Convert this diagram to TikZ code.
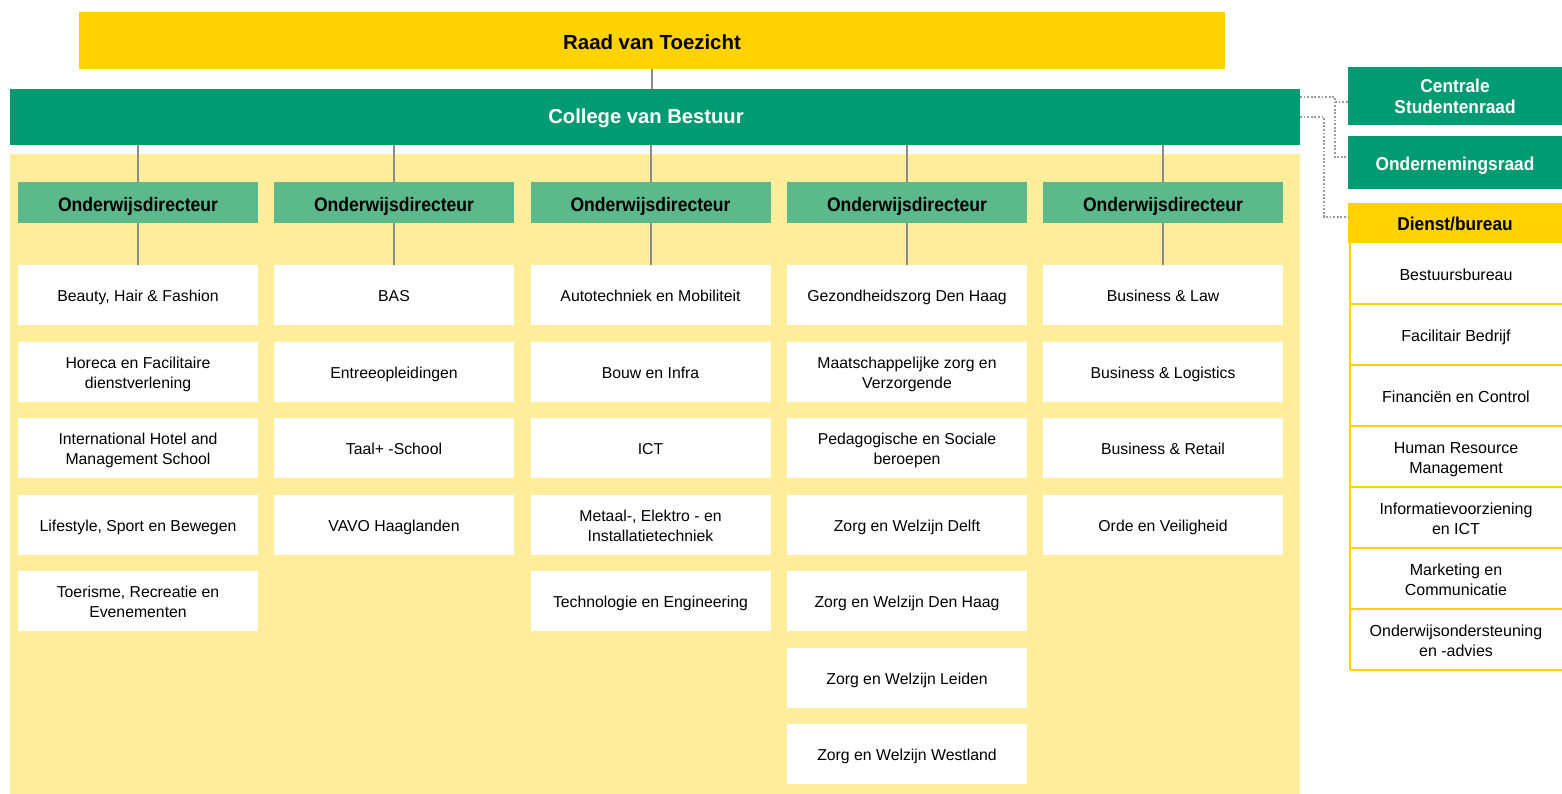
\documentclass[tikz,border=0pt]{standalone}
\usepackage{fontspec}
\setmainfont{Liberation Sans}
\newfontfamily\condfont[FakeStretch=0.9]{Liberation Sans}
\newfontfamily\semicond[FakeStretch=0.93]{Liberation Sans}

\definecolor{gold}{RGB}{255,210,0}
\definecolor{cvbgreen}{RGB}{0,155,114}
\definecolor{odgreen}{RGB}{92,185,140}
\definecolor{paleyellow}{RGB}{254,238,155}
\definecolor{linegray}{RGB}{140,140,140}
\definecolor{dotgray}{RGB}{155,155,155}

% invisible rule giving the first line of a label a fixed height
\newcommand{\firstline}[1]{\rule{0pt}{#1pt}}

\begin{document}
\begin{tikzpicture}[x=1pt,y=-1pt,
  % invisible rules fixing the height of the first line and the depth of the last
  struts/.style 2 args={execute at begin node={\rule{0pt}{#1pt}},
    execute at end node={\rule[-#2pt]{0pt}{#2pt}}},
  box/.style={inner sep=0pt, outer sep=0pt, align=center, text=black},
  unitbox/.style={box, fill=white, minimum width=240pt, minimum height=60pt,
    font=\fontsize{15.8}{20}\selectfont, struts={16.5}{3.5}},
  odbox/.style={box, fill=odgreen, minimum width=240pt, minimum height=41pt,
    font=\condfont\bfseries\fontsize{19.5}{22}\selectfont, struts={23}{4.5}},
  sidebox/.style={box, fill=cvbgreen, text=white, minimum width=214pt,
    font=\semicond\bfseries\fontsize{18.6}{21.7}\selectfont},
  svcbox/.style={box, fill=white, minimum width=212pt, minimum height=61pt,
    font=\fontsize{16}{20}\selectfont, struts={17.3}{3.7}},
  link/.style={draw=linegray, line width=2pt},
  dots/.style={draw=dotgray, line width=2.2pt, dash pattern=on 1.8pt off 1.8pt},
  goldline/.style={draw=gold, line width=2.6pt}
]
\useasboundingbox (0,0) rectangle (1562,794);

% background panel behind the education units
\fill[paleyellow] (10,154) rectangle (1300,794);

% top of the organisation
\node[box, fill=gold, minimum width=1146pt, minimum height=57pt,
  font=\bfseries\fontsize{20.4}{24}\selectfont, struts={21.6}{4}] (raad) at (652,40.5) {Raad van Toezicht};
\node[box, fill=cvbgreen, text=white, minimum width=1290pt, minimum height=56pt,
  font=\bfseries\fontsize{20.2}{24}\selectfont, struts={18.5}{4.5}] (cvb) at (655,117) {College van Bestuur\hspace*{18pt}};
\draw[link] (raad.south) -- (raad.south |- cvb.north);

% directors
\foreach \c/\x in {1/138,2/394,3/650.5,4/907,5/1163}{
  \node[odbox] (od-\c) at (\x,202.5) {Onderwijsdirecteur};
}

% education units per director
\foreach \t [count=\i] in {{Beauty, Hair \& Fashion},{Horeca en Facilitaire\\dienstverlening},
  {International Hotel and\\Management School},{Lifestyle, Sport en Bewegen},
  {Toerisme, Recreatie en\\Evenementen}}{
  \node[unitbox] (u-1-\i) at (138,{295+76.5*(\i-1)}) {\firstline{16.5}\t};
}
\foreach \t [count=\i] in {{BAS},{Entreeopleidingen},{Taal+ -School},{VAVO Haaglanden}}{
  \node[unitbox] (u-2-\i) at (394,{295+76.5*(\i-1)}) {\firstline{16.5}\t};
}
\foreach \t [count=\i] in {{Autotechniek en Mobiliteit},{Bouw en Infra},{ICT},
  {Metaal-, Elektro - en\\Installatietechniek},{Technologie en Engineering}}{
  \node[unitbox] (u-3-\i) at (650.5,{295+76.5*(\i-1)}) {\firstline{16.5}\t};
}
\foreach \t [count=\i] in {{Gezondheidszorg Den Haag},{Maatschappelijke zorg en\\Verzorgende},
  {Pedagogische en Sociale\\beroepen},{Zorg en Welzijn Delft},{Zorg en Welzijn Den Haag},
  {Zorg en Welzijn Leiden},{Zorg en Welzijn Westland}}{
  \node[unitbox] (u-4-\i) at (907,{295+76.5*(\i-1)}) {\firstline{16.5}\t};
}
\foreach \t [count=\i] in {{Business \& Law},{Business \& Logistics},{Business \& Retail},
  {Orde en Veiligheid}}{
  \node[unitbox] (u-5-\i) at (1163,{295+76.5*(\i-1)}) {\firstline{16.5}\t};
}

% connectors board -> directors -> first unit
\foreach \c in {1,...,5}{
  \draw[link] (od-\c.north |- cvb.south) -- (od-\c.north);
  \draw[link] (od-\c.south) -- (u-\c-1.north);
}

% councils and staff services on the right
\node[sidebox, minimum height=58pt, struts={16.8}{3}] (csr) at (1455,96) {\firstline{16.8}Centrale\\Studentenraad};
\node[sidebox, minimum height=53pt, struts={19.8}{4}] (or) at (1455,162.8) {Ondernemingsraad};
\node[box, fill=gold, minimum width=214pt, minimum height=40pt,
  font=\semicond\bfseries\fontsize{18.6}{22}\selectfont, struts={20}{4.5}] (dienst) at (1455,223) {Dienst/bureau};

\foreach \t [count=\i] in {{Bestuursbureau},{Facilitair Bedrijf},{Financiën en Control},
  {Human Resource\\Management},{Informatievoorziening\\en ICT},{Marketing en\\Communicatie},
  {Onderwijsondersteuning\\en -advies}}{
  \node[svcbox] (svc-\i) at (1456,{273.5+61*(\i-1)}) {\firstline{17.3}\t};
}
% gold rules between the services
\foreach \i in {1,...,7}{
  \draw[goldline] (svc-\i.south west) -- (svc-\i.south east);
}
\draw[goldline] (dienst.south west -| svc-1.west) -- (svc-7.south west);

% dotted advisory links
\coordinate (d1) at (1335,97);
\coordinate (d2) at (1335,157);
\coordinate (d5) at (1335,102);
\coordinate (d3) at (1324,117);
\coordinate (d4) at (1324,217);
\draw[dots] (cvb.east |- d1) -- (d1) -- (d2) -- (or.west |- d2);
\draw[dots] (d5) -- (csr.west |- d5);
\draw[dots] (cvb.east |- d3) -- (d3) -- (d4) -- (dienst.west |- d4);
\end{tikzpicture}
\end{document}
